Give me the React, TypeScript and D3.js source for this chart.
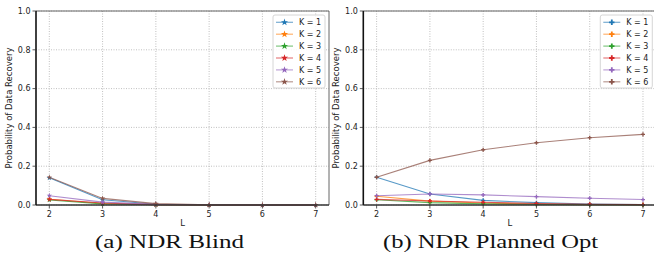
import React from "react";
import * as d3 from "d3";

const Ls = [2, 3, 4, 5, 6, 7];
const seriesLabels = ["K = 1", "K = 2", "K = 3", "K = 4", "K = 5", "K = 6"];
const colors = ["#1f77b4", "#ff7f0e", "#2ca02c", "#d62728", "#9467bd", "#8c564b"];
const yTicks = [0, 0.2, 0.4, 0.6, 0.8, 1.0];

const blindK1 = [0.14, 0.027, 0.004, 0.0005, 0, 0];
const blindK2 = [0.03, 0.008, 0.002, 0, 0, 0];
const blindK3 = [0.026, 0.006, 0.001, 0, 0, 0];
const blindK4 = [0.029, 0.01, 0.002, 0, 0, 0];
const blindK5 = [0.048, 0.015, 0.003, 0.001, 0, 0];
const blindK6 = [0.143, 0.034, 0.007, 0.001, 0, 0];

const optK1 = [0.143, 0.057, 0.024, 0.012, 0.005, 0.002];
const optK2 = [0.045, 0.02, 0.01, 0.004, 0.002, 0.001];
const optK3 = [0.027, 0.012, 0.006, 0.003, 0.001, 0.0];
const optK4 = [0.029, 0.021, 0.014, 0.008, 0.004, 0.002];
const optK5 = [0.048, 0.057, 0.052, 0.043, 0.035, 0.028];
const optK6 = [0.143, 0.23, 0.285, 0.321, 0.347, 0.364];

const blindSeries = [blindK1, blindK2, blindK3, blindK4, blindK5, blindK6];
const optSeries = [optK1, optK2, optK3, optK4, optK5, optK6];

const captions = ["(a) NDR Blind", "(b) NDR Planned Opt"];

const TOP = 11;
const BOTTOM = 205;
const PW = 293;
const FONT = "DejaVu Sans, sans-serif";

function Panel({ x0, series, symbolType, caption, captionX, captionW }: any) {
  const x = d3.scaleLinear().domain([1.75, 7.25]).range([x0, x0 + PW]);
  const y = d3.scaleLinear().domain([0, 1]).range([BOTTOM, TOP]);
  const line = d3
    .line<number>()
    .x((_, i) => x(Ls[i]))
    .y((d) => y(d));
  const sym = d3.symbol().type(symbolType).size(9)();
  const symLeg = d3.symbol().type(symbolType).size(16)();
  const legRight = x0 + PW - 4;
  const legW = 52;
  const legLeft = legRight - legW;
  return (
    <g>
      {/* grid */}
      {Ls.map((l) => (
        <line key={"gx" + l} x1={x(l)} x2={x(l)} y1={TOP} y2={BOTTOM} stroke="#b0b0b0" strokeWidth={0.8} strokeDasharray="1,1.5" />
      ))}
      {yTicks.map((t) => (
        <line key={"gy" + t} x1={x0} x2={x0 + PW} y1={y(t)} y2={y(t)} stroke="#b0b0b0" strokeWidth={0.8} strokeDasharray="1,1.5" />
      ))}
      {/* series */}
      {series.map((s: number[], i: number) => (
        <g key={"s" + i}>
          <path d={line(s) || ""} fill="none" stroke={colors[i]} strokeWidth={1.1} strokeOpacity={0.75} />
          {s.map((v, j) => (
            <path key={j} d={sym || ""} transform={`translate(${x(Ls[j])},${y(v)})`} fill={colors[i]} />
          ))}
        </g>
      ))}
      {/* spines */}
      <line x1={x0} x2={x0 + PW} y1={TOP} y2={TOP} stroke="#555" strokeWidth={0.9} />
      <line x1={x0 + PW} x2={x0 + PW} y1={TOP} y2={BOTTOM} stroke="#555" strokeWidth={0.9} />
      <line x1={x0} x2={x0 + PW} y1={BOTTOM} y2={BOTTOM} stroke="#333" strokeWidth={1.6} />
      <line x1={x0} x2={x0} y1={TOP} y2={BOTTOM} stroke="#111" strokeWidth={1.6} />
      {/* y ticks */}
      {yTicks.map((t) => (
        <g key={"yt" + t}>
          <line x1={x0 - 3.5} x2={x0} y1={y(t)} y2={y(t)} stroke="#333" strokeWidth={0.8} />
          <text x={x0 - 5.5} y={y(t)} dy="0.35em" textAnchor="end" fontSize={8} fontFamily={FONT} fill="#222">
            {t.toFixed(1)}
          </text>
        </g>
      ))}
      {/* x ticks */}
      {Ls.map((l) => (
        <g key={"xt" + l}>
          <line x1={x(l)} x2={x(l)} y1={BOTTOM} y2={BOTTOM + 3.5} stroke="#333" strokeWidth={0.8} />
          <text x={x(l)} y={BOTTOM + 11.5} textAnchor="middle" fontSize={8} fontFamily={FONT} fill="#222">
            {l}
          </text>
        </g>
      ))}
      <text x={(x0 + x0 + PW) / 2} y={BOTTOM + 21} textAnchor="middle" fontSize={8.5} fontFamily={FONT} fill="#222">
        L
      </text>
      <text
        transform={`translate(${x0 - 24},${(TOP + BOTTOM) / 2}) rotate(-90)`}
        textAnchor="middle"
        fontSize={8.5}
        fontFamily={FONT}
        fill="#222"
      >
        Probability of Data Recovery
      </text>
      {/* legend */}
      <rect x={legLeft} y={15} width={legW} height={73} rx={2} fill="white" fillOpacity={0.85} stroke="#cccccc" strokeWidth={0.8} />
      {seriesLabels.map((lab, i) => {
        const ly = 22.3 + i * 11.9;
        return (
          <g key={"lg" + i}>
            <line x1={legLeft + 3} x2={legLeft + 20} y1={ly} y2={ly} stroke={colors[i]} strokeWidth={1.2} strokeOpacity={0.6} />
            <path d={symLeg || ""} transform={`translate(${legLeft + 11.5},${ly})`} fill={colors[i]} />
            <text x={legLeft + 26} y={ly} dy="0.35em" fontSize={8} fontFamily={FONT} fill="#222">
              {lab}
            </text>
          </g>
        );
      })}
      {/* caption */}
      <text
        x={captionX}
        y={248}
        fontSize={19}
        fontFamily="Liberation Serif, Times New Roman, serif"
        fill="#111"
        textLength={captionW}
        lengthAdjust="spacingAndGlyphs"
      >
        {caption}
      </text>
    </g>
  );
}

export default function App() {
  return (
    <svg width={654} height={262} style={{ position: "absolute", left: 0, top: 0, background: "white" }}>
      <rect x={0} y={0} width={654} height={262} fill="white" />
      <Panel x0={36} series={blindSeries} symbolType={d3.symbolStar} caption={captions[0]} captionX={95} captionW={149} />
      <Panel x0={363.3} series={optSeries} symbolType={d3.symbolCross} caption={captions[1]} captionX={383} captionW={215} />
    </svg>
  );
}
